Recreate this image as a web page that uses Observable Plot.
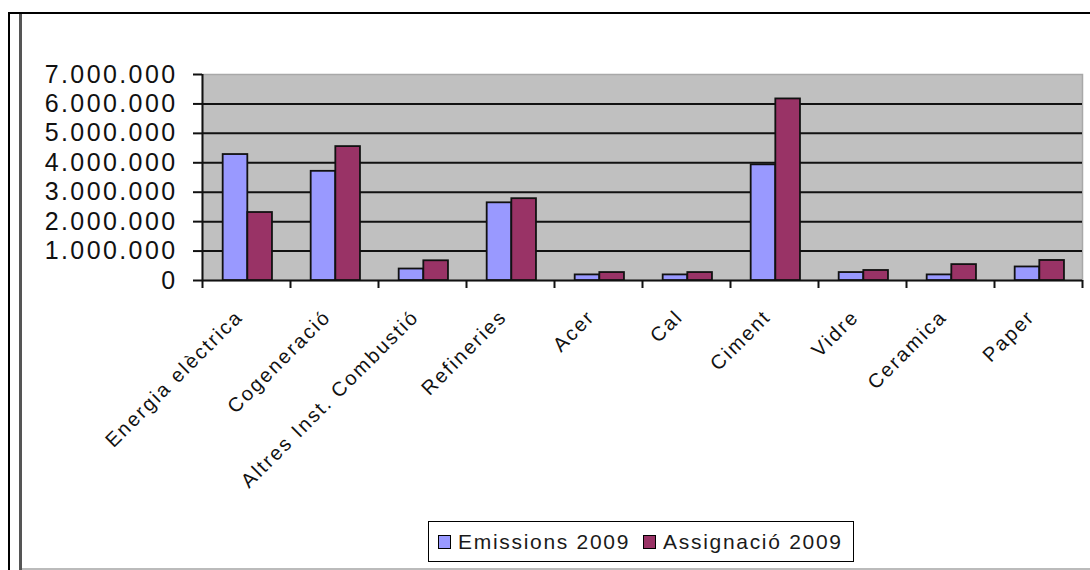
<!DOCTYPE html>
<html>
<head>
<meta charset="utf-8">
<script src="https://cdn.jsdelivr.net/npm/d3@7"></script>
<script src="https://cdn.jsdelivr.net/npm/@observablehq/plot@0.6"></script>
<style>
html, body { margin: 0; padding: 0; background: #fff; }
#page { position: relative; width: 1090px; height: 570px; overflow: hidden; font-family: "Liberation Sans", Arial, sans-serif; }
.ln { position: absolute; }
#chart { position: absolute; left: 0; top: 0; }
#chart g[aria-label="y-axis tick label"] text { letter-spacing: 2.4px; }
#chart g[aria-label="text"] text { letter-spacing: 2.1px; }
#legend { position: absolute; left: 428px; top: 521px; width: 424px; height: 39px; border: 1.5px solid #000; background: #fff; display: flex; align-items: center; font-size: 21px; letter-spacing: 1.7px; color: #1a1a1a; white-space: nowrap; }
.sw { display: inline-block; width: 11px; height: 12px; border: 1.5px solid #000; margin-right: 7px; }
</style>
</head>
<body>
<div id="page">
  <div class="ln" style="left:8px;top:12px;width:1082px;height:2px;background:#000;"></div>
  <div class="ln" style="left:8px;top:12px;width:2px;height:558px;background:#000;"></div>
  <div class="ln" style="left:19px;top:14px;width:3px;height:556px;background:#555;"></div>
  <div class="ln" style="left:22px;top:568px;width:1068px;height:2px;background:#bbb;"></div>
  <div id="chart"></div>
  <div id="legend"></div>
</div>
<script>
const categories = ["Energia elèctrica", "Cogeneració", "Altres Inst. Combustió", "Refineries", "Acer", "Cal", "Ciment", "Vidre", "Ceramica", "Paper"];
const emissions = [4280000, 3710000, 390000, 2640000, 190000, 190000, 3930000, 270000, 190000, 460000];
const assignacio = [2310000, 4550000, 670000, 2780000, 270000, 270000, 6170000, 340000, 540000, 680000];
const seriesNames = ["Emissions 2009", "Assignació 2009"];
const seriesColors = ["#9999ff", "#993366"];
const yTicks = [0, 1000000, 2000000, 3000000, 4000000, 5000000, 6000000, 7000000];

const barEdges = [0.235, 0.515, 0.795];
const rows = categories.flatMap((c, i) => [
  {cat: c, i, s: 0, value: emissions[i]},
  {cat: c, i, s: 1, value: assignacio[i]}
]);
const fmt = d => d3.format(",")(d).replace(/,/g, ".");
const boundaries = d3.range(0, categories.length + 1);

const chart = Plot.plot({
  width: 1090,
  height: 500,
  marginLeft: 202,
  marginRight: 8,
  marginTop: 74,
  marginBottom: 220,
  style: {fontFamily: "Liberation Sans, Arial, sans-serif", color: "#111", background: "transparent", overflow: "visible"},
  x: {domain: [0, categories.length]},
  y: {domain: [0, 7000000]},
  marks: [
    Plot.frame({fill: "#c0c0c0", stroke: "#a8a8a8", strokeWidth: 1.5}),
    Plot.gridY(yTicks.filter(v => v < 7000000), {stroke: "#111", strokeOpacity: 1, strokeWidth: 2}),
    Plot.ruleX([0], {y1: 0, y2: 7000000, stroke: "#111", strokeWidth: 2}),
    Plot.rectY(rows.filter(d => d.s === 0), {x1: d => d.i + barEdges[0], x2: d => d.i + barEdges[1], y: "value", fill: seriesColors[0], stroke: "#111", strokeWidth: 1.8}),
    Plot.rectY(rows.filter(d => d.s === 1), {x1: d => d.i + barEdges[1], x2: d => d.i + barEdges[2], y: "value", fill: seriesColors[1], stroke: "#111", strokeWidth: 1.8}),
    Plot.axisY(yTicks, {tickSize: 9, tickPadding: 16, tickFormat: fmt, fontSize: 25, strokeWidth: 2, label: null}),
    Plot.axisX(boundaries, {tickSize: 8, tickFormat: () => "", strokeWidth: 2, label: null}),
    Plot.text(categories, {x: (d, i) => i + 0.5, frameAnchor: "bottom", dy: 33, dx: -7, rotate: -45, textAnchor: "end", lineAnchor: "middle", fontSize: 20, fill: "#111", text: d => d})
  ]
});
document.getElementById("chart").appendChild(chart);

const legend = document.getElementById("legend");
seriesNames.forEach((name, k) => {
  const sw = document.createElement("span");
  sw.className = "sw";
  sw.style.background = seriesColors[k];
  sw.style.marginLeft = k === 0 ? "9px" : "13px";
  legend.appendChild(sw);
  const t = document.createElement("span");
  t.textContent = name;
  legend.appendChild(t);
});
</script>
</body>
</html>
